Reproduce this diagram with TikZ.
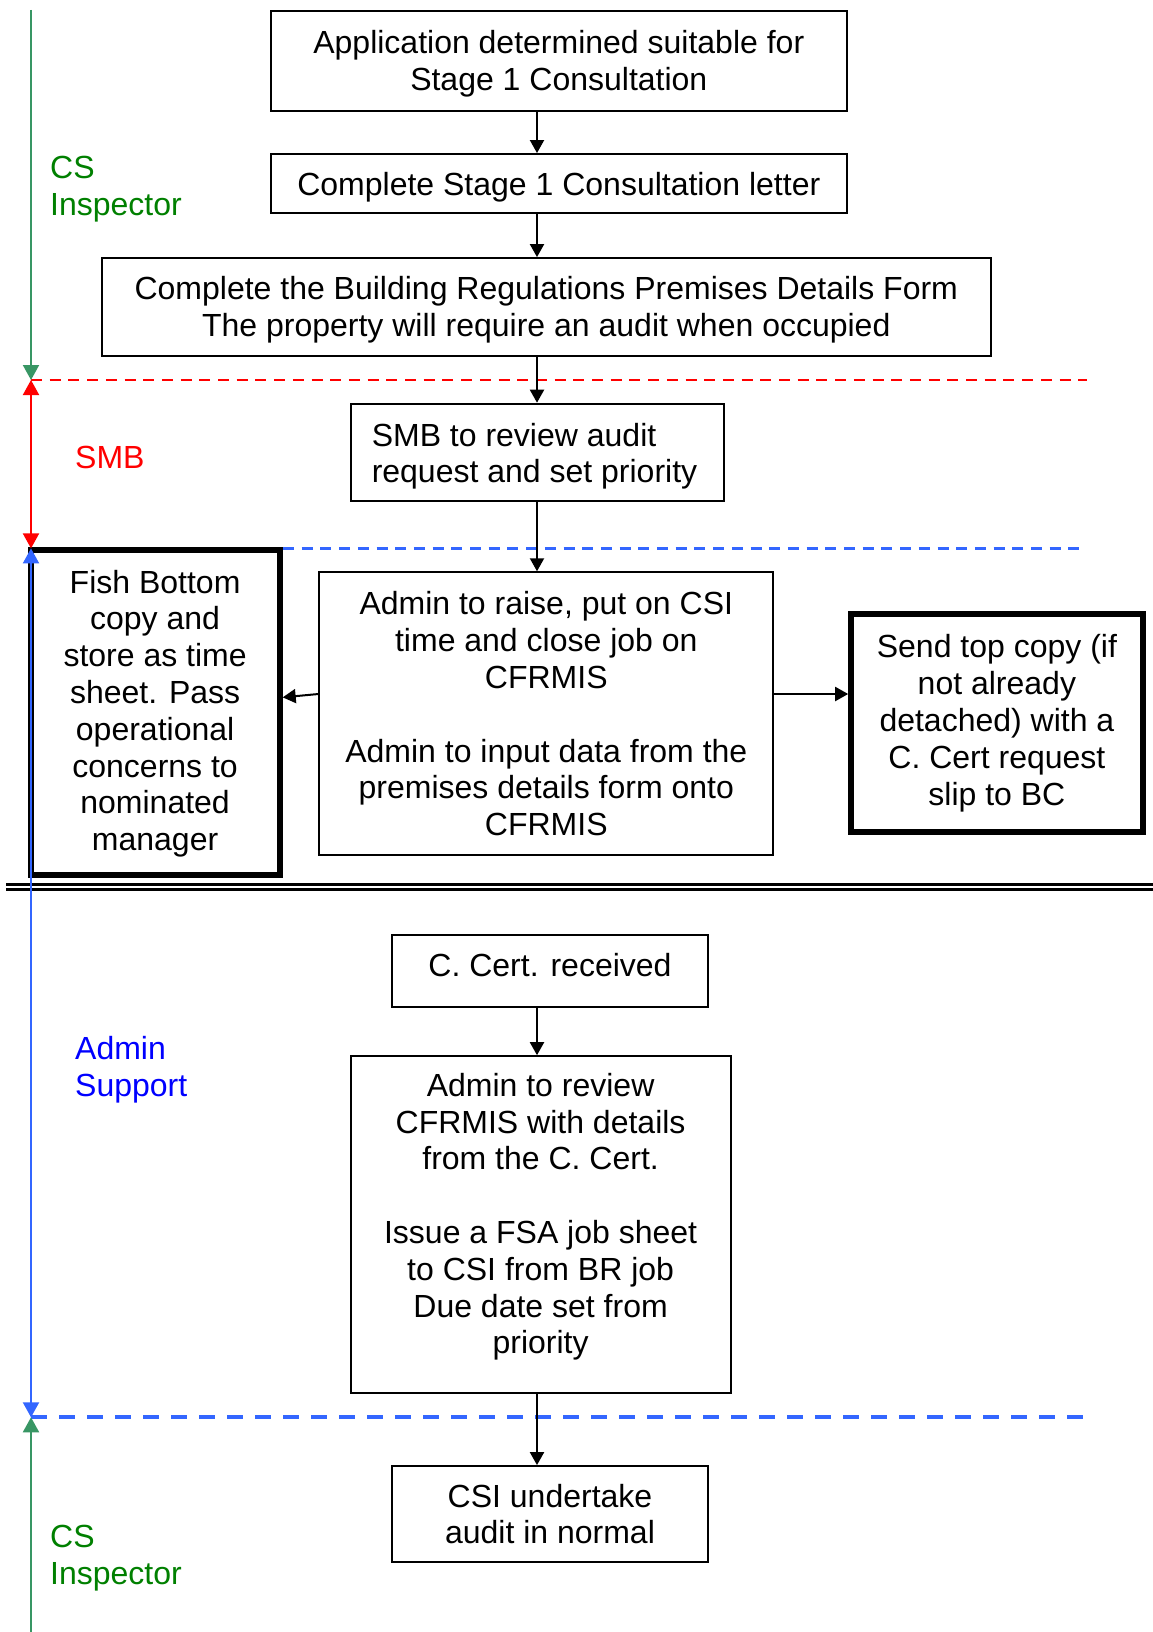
\documentclass[tikz,border=0pt]{standalone}
\usepackage{fontspec}
\setmainfont{Liberation Sans}
\usetikzlibrary{arrows.meta}
\definecolor{laneGreen}{RGB}{56,150,100}
\definecolor{labelGreen}{RGB}{0,128,0}
\definecolor{laneBlue}{RGB}{51,102,255}
\definecolor{labelBlue}{RGB}{0,0,255}
\definecolor{laneRed}{RGB}{255,0,0}
\tikzset{lanetip/.tip={Triangle[length=15pt,width=16pt]}}
% invisible strut that lowers the first line of a box
\newcommand\padtop[1]{\rule{0pt}{#1}}
\begin{document}
\begin{tikzpicture}[x=1pt,y=-1pt,
  every node/.style={font=\fontsize{32}{36.8}\selectfont},
  stepbox/.style={draw, line width=2pt, fill=white, align=center, inner sep=0pt},
  heavybox/.style={stepbox, line width=6pt},
  flow/.style={line width=2pt, -{Triangle[length=13pt,width=14pt]}},
  lane/.style={line width=2pt},
  lanelabel/.style={anchor=west, align=left, inner sep=0pt},
  thinsep/.style={line width=2.5pt, dash pattern=on 11pt off 7.7pt},
  thicksep/.style={line width=4pt, dash pattern=on 16pt off 12pt},
]
\useasboundingbox (0,0) rectangle (1153,1632);
\fill[white] (0,0) rectangle (1153,1632);

% lane boundaries on the left axis
\coordinate (axisTop) at (31,10);
\coordinate (smbTop) at (31,380);
\coordinate (smbBot) at (31,548.4);
\coordinate (adminBot) at (31,1417.3);
\coordinate (axisBot) at (31,1632);
\coordinate (redEnd) at (1087,380);
\coordinate (blueStart) at (283,548.4);
\coordinate (blueEnd) at (1087,548.4);
\coordinate (lowEnd) at (1083,1417.3);
\coordinate (flowX) at (537,0);

% dashed lane separators
\draw[laneRed, thinsep] (smbTop) -- (redEnd);
\draw[laneBlue, thinsep] (blueStart) -- (blueEnd);
\draw[laneBlue, thicksep] (adminBot) -- (lowEnd);

% double rule
\coordinate (ruleA) at (6,884.5);
\coordinate (ruleAE) at (1153,884.5);
\coordinate (ruleB) at (6,889.7);
\coordinate (ruleBE) at (1153,889.7);
\draw[line width=2.5pt] (ruleA) -- (ruleAE);
\draw[line width=2.5pt] (ruleB) -- (ruleBE);

% process steps
\node[stepbox, minimum width=576.5pt, minimum height=99.9pt] (apply) at (558.8,61.4)
  {\padtop{27.5pt}Application determined suitable for\\Stage 1 Consultation};
\node[stepbox, minimum width=576.5pt, minimum height=59.3pt] (letter) at (558.8,183.7)
  {\padtop{29.5pt}Complete Stage 1 Consultation letter};
\node[stepbox, minimum width=888.6pt, minimum height=97.8pt] (premises) at (546.3,307)
  {\padtop{28.5pt}Complete the Building Regulations Premises Details Form\\The property will require an audit when occupied};
\node[stepbox, align=left, minimum width=373.6pt, minimum height=96.8pt] (smb) at (537.5,452.1)
  {\padtop{31.5pt}SMB to review audit\\request and set priority\hspace*{6pt}};
\node[stepbox, minimum width=453.7pt, minimum height=283pt] (raise) at (546.3,713.8)
  {Admin to raise, put on CSI\\time and close job on\\CFRMIS\\[36.8pt]Admin to input data from the\\premises details form onto\\CFRMIS};
\node[heavybox, minimum width=249.2pt, minimum height=324.7pt] (fish) at (155.1,712.65)
  {\padtop{25pt}Fish Bottom\\copy and\\store as time\\sheet. Pass\\operational\\concerns to\\nominated\\manager};
\node[heavybox, minimum width=291.4pt, minimum height=218.5pt] (send) at (996.9,723.2)
  {Send top copy (if\\not already\\detached) with a\\C. Cert request\\slip to BC};
\node[stepbox, minimum width=315.3pt, minimum height=72.8pt] (cert) at (550,970.9)
  {C. Cert. received\\[-24.5pt]\mbox{}};
\node[stepbox, minimum width=379.8pt, minimum height=337.2pt] (review) at (540.6,1224.8)
  {Admin to review\\CFRMIS with details\\from the C. Cert.\\[36.8pt]Issue a FSA job sheet\\to CSI from BR job\\Due date set from\\priority\\[-14pt]\mbox{}};
\node[stepbox, minimum width=315.3pt, minimum height=95.8pt] (audit) at (550,1514)
  {CSI undertake\\audit in normal};

% connectors
\draw[flow] (apply.south -| flowX) -- (letter.north -| flowX);
\draw[flow] (letter.south -| flowX) -- (premises.north -| flowX);
\draw[flow] (premises.south -| flowX) -- (smb.north -| flowX);
\draw[flow] (smb.south -| flowX) -- (raise.north -| flowX);
\draw[flow] ([yshift=19.8pt]raise.west) -- ([yshift=15.3pt]fish.east);
\draw[flow] ([yshift=19.8pt]raise.east) -- ([yshift=29.2pt]send.west);
\draw[flow] (cert.south -| flowX) -- (review.north -| flowX);
\draw[flow] (review.south -| flowX) -- (audit.north -| flowX);

% lane axis
\draw[laneGreen, lane, -{lanetip}] (axisTop) -- (smbTop);
\draw[laneRed, lane, {lanetip}-{lanetip}] (smbTop) -- (smbBot);
\draw[laneBlue, lane, {lanetip}-{lanetip}] (smbBot) -- (adminBot);
\draw[laneGreen, lane, -{lanetip}] (axisBot) -- (adminBot);

% lane labels
\node[lanelabel, text=labelGreen] (laneCS) at (50,189.2) {CS\\Inspector};
\node[lanelabel, text=laneRed] (laneSMB) at (75,457.8) {SMB};
\node[lanelabel, text=labelBlue] (laneAdmin) at (75,1069.7) {Admin\\Support};
\node[lanelabel, text=labelGreen] (laneCS2) at (50,1558) {CS\\Inspector};
\end{tikzpicture}
\end{document}
